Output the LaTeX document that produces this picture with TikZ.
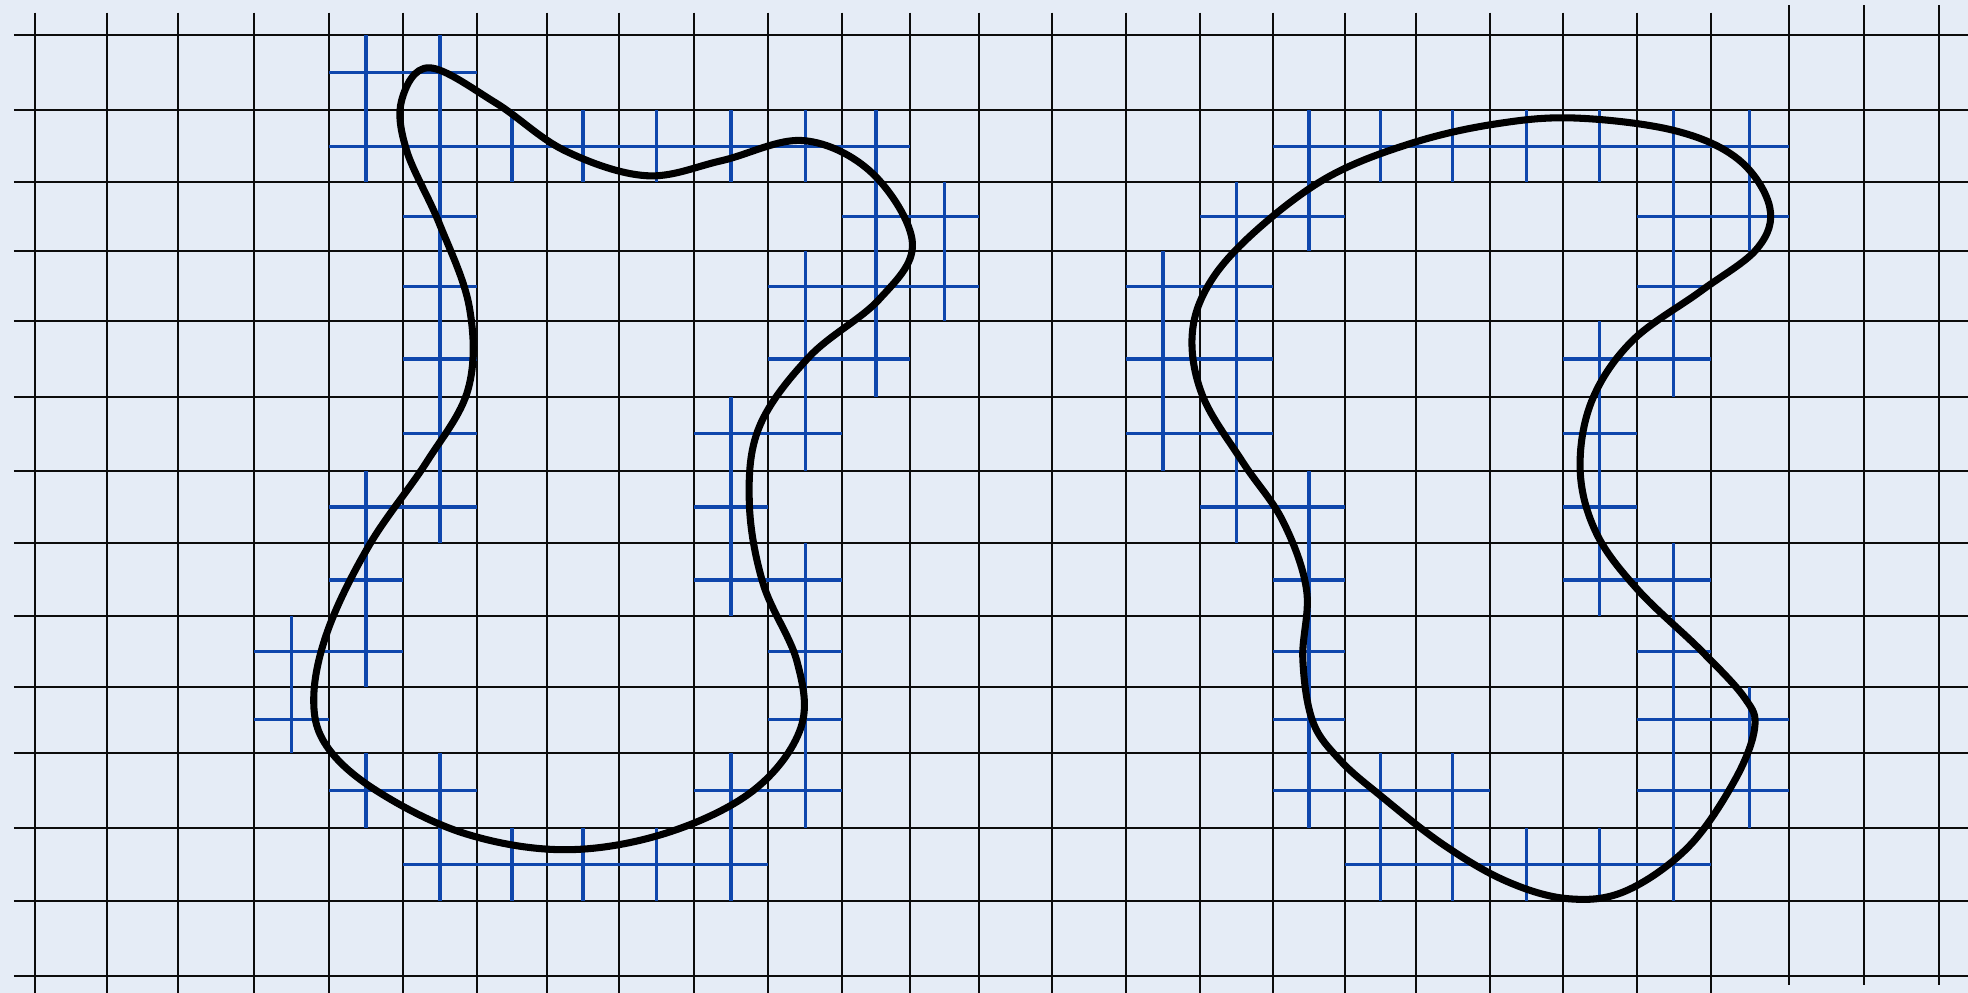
\documentclass[tikz,border=0pt]{standalone}
\usepackage{xcolor}
\definecolor{paper}{RGB}{229,236,246}
\definecolor{ink}{RGB}{12,12,12}
\definecolor{pen}{RGB}{14,70,172}
\usepackage{tikz}
\usetikzlibrary{calc}
\tikzset{
  %% squared paper
  gridline/.style={draw=ink, line width=0.9pt},
  %% cell marks
  cellmark/.style={draw=pen, line width=1.5pt},
  %% closed outlines
  blob/.style={draw=black, line width=3.2pt, line join=round},
}
%% measured positions of the paper lines
\def\gx{{28,85,142,202,262,321,380,436,493,553,612,671,725,780,838,897,956,1014,1072,1128,1187,1245,1304,1363,1425,1485,1545}}
\def\gy{{28,88,145,200,256,316,375,433,491,547,600,660,718,778}}

\begin{document}
\begin{tikzpicture}[x=0.02cm, y=-0.02cm]
\fill[paper] (0,0) rectangle (1568,791);
\useasboundingbox (0,0) rectangle (1568,791);

%% grid
\foreach \x in {28,85,142,202,262,321,380,436,493,553,612,671,725,780,838,897,956,1014,1072,1128,1187,1245,1304,1363}
  \draw[gridline] (\x,10) -- (\x,791);
\foreach \x in {1425,1485,1545}
  \draw[gridline] (\x,4) -- (\x,785);
\foreach \y in {28,88,145,200,256,316,375,433,491,547,600,660,718,778}
  \draw[gridline] (11,\y) -- (1568,\y);

%% marked cells, row/columns
\foreach \r/\cs in {0/{4,5}, 1/{4,5,6,7,8,9,10,11,17,18,19,20,21,22,23},
    2/{5,11,12,16,17,22,23}, 3/{5,10,11,12,15,16,22},
    4/{5,10,11,15,16,21,22}, 5/{5,9,10,15,16,21},
    6/{4,5,9,16,17,21}, 7/{4,9,10,17,21,22}, 8/{3,4,10,17,22},
    9/{3,10,17,22,23}, 10/{4,5,9,10,17,18,19,22,23},
    11/{5,6,7,8,9,18,19,20,21,22}}{
  \foreach \c in \cs {
    \pgfmathsetmacro\xa{\gx[\c]}
    \pgfmathsetmacro\xb{\gx[\c+1]}
    \pgfmathsetmacro\ya{\gy[\r]}
    \pgfmathsetmacro\yb{\gy[\r+1]}
    \draw[cellmark] (\xa,{(\ya+\yb)/2}) -- (\xb,{(\ya+\yb)/2})
      ({(\xa+\xb)/2},\ya) -- ({(\xa+\xb)/2},\yb);
  }
}

%% left outline
\draw[blob] plot[smooth cycle, tension=0.6] coordinates {
  (342,54) (395,82) (450,120) (515,140) (575,128) (640,112) (695,138)
  (727,194) (700,239) (645,284) (605,340) (597,400) (608,465) (635,527)
  (638,580) (600,630) (530,664) (450,677) (370,664) (300,630) (260,594)
  (250,555) (262,500) (295,433) (340,368) (373,310) (374,245) (350,178)
  (324,120) (320,80)};

%% right outline
\draw[blob] plot[smooth cycle, tension=0.6] coordinates {
  (1254,94) (1334,104) (1385,127) (1410,165) (1400,198) (1355,232)
  (1300,272) (1268,320) (1259,375) (1272,425) (1305,470) (1355,518)
  (1390,556) (1398,580) (1382,622) (1345,675) (1295,710) (1249,716)
  (1200,702) (1150,673) (1100,634) (1068,606) (1046,575) (1038,525)
  (1041,470) (1022,415) (990,368) (958,315) (950,265) (966,222)
  (1005,180) (1060,140) (1125,114) (1190,99)};
\end{tikzpicture}
\end{document}
